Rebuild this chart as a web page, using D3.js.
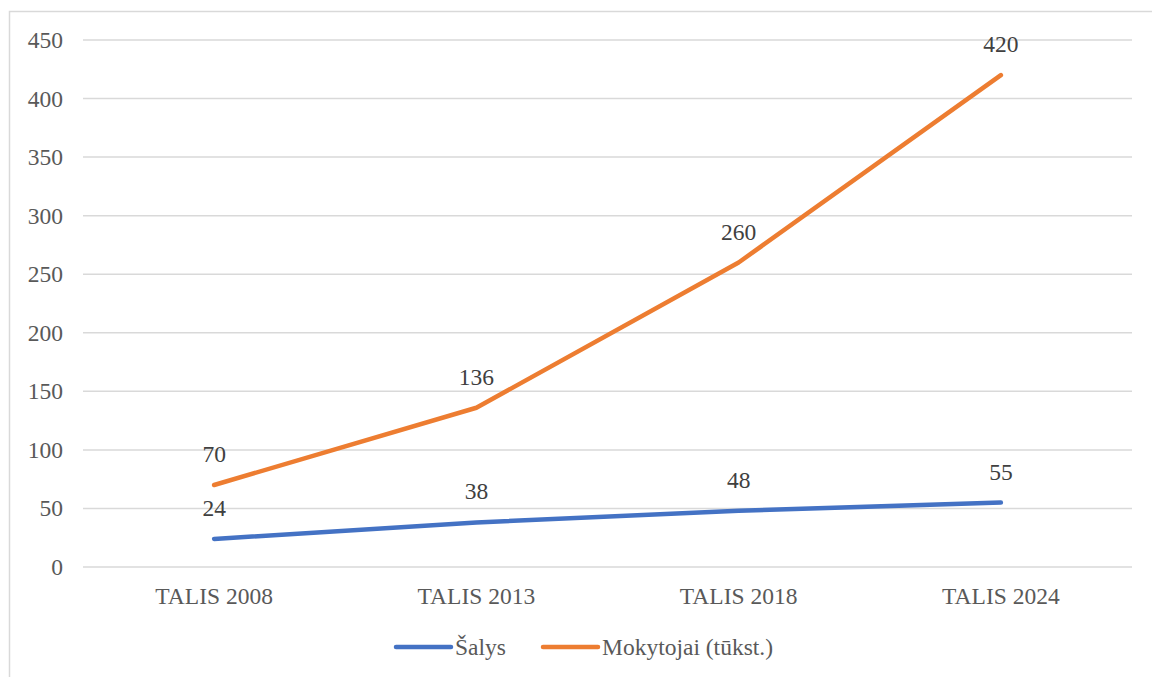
<!DOCTYPE html>
<html><head><meta charset="utf-8">
<script src="https://cdn.jsdelivr.net/npm/d3@7"></script>
<style>body{margin:0;background:#fff}svg{display:block}</style>
</head><body>
<script>
const categories = ["TALIS 2008","TALIS 2013","TALIS 2018","TALIS 2024"];
const salys = [24, 38, 48, 55];
const mokytojai = [70, 136, 260, 420];
const yTicks = [0,50,100,150,200,250,300,350,400,450];
const seriesNames = ["Šalys","Mokytojai (tūkst.)"];
const seriesColors = ["#4472C4","#ED7D31"];

const W=1152,H=677;
const svg=d3.select("body").append("svg").attr("width",W).attr("height",H);
svg.append("rect").attr("x",9.5).attr("y",11.5).attr("width",1160).attr("height",700)
  .attr("fill","#fff").attr("stroke","#d9d9d9").attr("stroke-width",1.5);

const font="Liberation Serif, Times New Roman, serif";
const fs=23.5;
const x=d3.scaleBand().domain(categories).range([83,1132]);
const y=d3.scaleLinear().domain([0,450]).range([567,40]);

const g=svg.append("g");
g.selectAll("line.grid").data(yTicks).join("line").attr("class","grid")
  .attr("x1",83).attr("x2",1132).attr("y1",d=>y(d)).attr("y2",d=>y(d))
  .attr("stroke","#d9d9d9").attr("stroke-width",1.5);

const yAxis=svg.append("g").attr("transform","translate(83,0)")
  .call(d3.axisLeft(y).tickValues(yTicks).tickSize(0).tickPadding(20))
  .attr("font-family",font).attr("font-size",fs);
yAxis.select(".domain").remove();
yAxis.selectAll("text").attr("fill","#595959");

const xAxis=svg.append("g").attr("transform","translate(0,567)")
  .call(d3.axisBottom(x).tickSize(0).tickPadding(20))
  .attr("font-family",font).attr("font-size",fs);
xAxis.select(".domain").remove();
xAxis.selectAll("text").attr("fill","#595959");

const series=[salys,mokytojai];
const line=d3.line().x((d,i)=>x(categories[i])+x.bandwidth()/2).y(d=>y(d));
series.forEach((s,k)=>{
  svg.append("path").datum(s).attr("d",line).attr("fill","none")
    .attr("stroke",seriesColors[k]).attr("stroke-width",4.5)
    .attr("stroke-linecap","round").attr("stroke-linejoin","round");
});
series.forEach((s,k)=>{
  svg.selectAll("text.lbl"+k).data(s).join("text").attr("class","lbl"+k)
    .attr("x",(d,i)=>x(categories[i])+x.bandwidth()/2)
    .attr("y",d=>y(d)-23)
    .attr("text-anchor","middle").attr("font-family",font).attr("font-size",fs)
    .attr("fill","#404040").text(d=>d);
});

const legX=[396,543];
seriesNames.forEach((n,k)=>{
  svg.append("line").attr("x1",legX[k]).attr("x2",legX[k]+55).attr("y1",647).attr("y2",647)
    .attr("stroke",seriesColors[k]).attr("stroke-width",4.5).attr("stroke-linecap","round");
  svg.append("text").attr("x",legX[k]+59).attr("y",655).attr("font-family",font)
    .attr("font-size",fs).attr("fill","#595959").text(n);
});
</script>
</body></html>
